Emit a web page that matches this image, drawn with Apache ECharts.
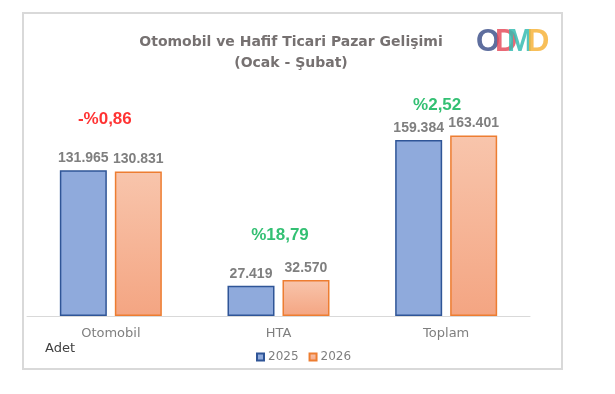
<!DOCTYPE html>
<html><head><meta charset="utf-8">
<script src="https://cdn.jsdelivr.net/npm/echarts@6/dist/echarts.min.js"></script>
<style>html,body{margin:0;padding:0;background:#fff}#c{width:615px;height:394px}</style>
</head><body><div id="c"></div>
<script>
var categories = ['Otomobil', 'HTA', 'Toplam'];
var values2025 = [131965, 27419, 159384];
var values2026 = [130831, 32570, 163401];
var changeLabels = ['-%0,86', '%18,79', '%2,52'];
var changeColors = ['#FF0000', '#00B050', '#00B050'];
var seriesNames = ['2025', '2026'];

var FONT = 'DejaVu Sans';
var fmt = function (v) { return String(v).replace(/\B(?=(\d{3})+(?!\d))/g, '.'); };
var labelOffsets = [[-6, -51], [1.5, -45], [-9, -30]];

var chart = echarts.init(document.getElementById('c'), null, {renderer: 'canvas'});
var valueLabel = {show: true, position: 'top', distance: 5, formatter: function (p) { return fmt(p.value); },
  fontFamily: 'Liberation Sans', fontSize: 14, fontWeight: 'bold', color: '#7F7F7F'};
var logoStyle = function (t, c) { return {text: t, fontFamily: 'Liberation Sans', fontWeight: 'bold', fontSize: 31, fill: c}; };
var option = {
  backgroundColor: '#fff',
  animation: false,
  title: {
    text: 'Otomobil ve Hafif Ticari Pazar Gelişimi\n(Ocak - Şubat)',
    left: 286, top: 27, textAlign: 'center',
    textStyle: {fontFamily: FONT, fontSize: 14, fontWeight: 'bold', color: '#767171', lineHeight: 21}
  },
  legend: {
    data: seriesNames, left: 251, top: 346, itemWidth: 7, itemHeight: 7, itemGap: 10,
    icon: 'rect',
    textStyle: {fontFamily: FONT, fontSize: 12, color: '#7F7F7F', padding: [0, 0, 0, -1]}
  },
  grid: {left: 27, right: 85, top: 95, bottom: 78},
  xAxis: {
    type: 'category', data: categories,
    axisLine: {lineStyle: {color: '#D9D9D9', width: 1}},
    axisTick: {show: false},
    axisLabel: {fontFamily: FONT, fontSize: 13, color: '#7F7F7F', margin: 11}
  },
  yAxis: {type: 'value', min: 0, max: 200000, show: false, splitLine: {show: false}},
  series: [
    {
      name: seriesNames[0], type: 'bar', data: values2025, barWidth: 47, barGap: '17%',
      itemStyle: {color: '#8FAADC', borderColor: '#2F5597', borderWidth: 1.5},
      label: valueLabel
    },
    {
      name: seriesNames[1], type: 'bar', data: values2026, barWidth: 47,
      itemStyle: {
        color: new echarts.graphic.LinearGradient(0, 0, 0, 1, [{offset: 0, color: '#F8C5AC'}, {offset: 1, color: '#F4A582'}]),
        borderColor: '#ED7D31', borderWidth: 1.5
      },
      label: valueLabel
    },
    {
      name: 'change', type: 'scatter', symbolSize: 0, silent: true,
      data: categories.map(function (c, i) {
        return {
          value: [c, Math.max(values2025[i], values2026[i])],
          label: {show: true, position: 'inside', offset: labelOffsets[i], formatter: changeLabels[i],
            fontFamily: 'Liberation Sans', fontSize: 17, fontWeight: 'bold', color: changeColors[i]}
        };
      })
    }
  ],
  graphic: [
    {type: 'rect', shape: {x: 23, y: 13, width: 539, height: 356}, style: {fill: 'none', stroke: '#D9D9D9', lineWidth: 2}, z: -1},
    {type: 'text', left: 45, top: 342, style: {text: 'Adet', fontFamily: FONT, fontSize: 13, fill: '#404040'}},
    {type: 'group', left: 476, top: 27, children: [
      {type: 'text', x: 0, y: -6, style: logoStyle('O', 'rgba(80,98,150,0.92)')},
      {type: 'text', x: 19, y: -6, style: logoStyle('D', 'rgba(228,72,88,0.82)')},
      {type: 'text', x: 31, y: -6, style: logoStyle('M', 'rgba(55,188,178,0.85)')},
      {type: 'text', x: 51, y: -6, style: logoStyle('D', 'rgba(247,180,60,0.85)')}
    ]}
  ]
};
chart.setOption(option);
</script></body></html>
